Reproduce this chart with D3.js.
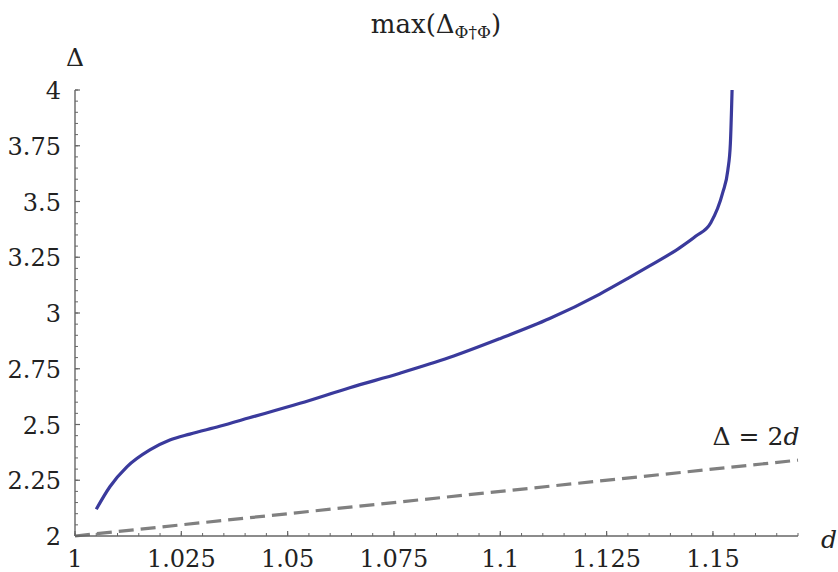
<!DOCTYPE html>
<html>
<head>
<meta charset="utf-8">
<script src="https://cdn.jsdelivr.net/npm/d3@7"></script>
<style>
  body { margin: 0; background: #fff; }
  svg text { font-family: "DejaVu Serif", "Liberation Serif", serif; }
</style>
</head>
<body>
<div id="chart"></div>
<script>
// curve values
var dValues =     [1.005, 1.0082, 1.0122, 1.0176, 1.0223, 1.027, 1.034, 1.041, 1.0529, 1.0646, 1.0764, 1.088, 1.0999, 1.1116, 1.1234, 1.13,  1.135, 1.142, 1.146, 1.1495, 1.1523, 1.1535, 1.1541, 1.1545];
var deltaValues = [2.12,  2.221,  2.31,   2.386,  2.43,   2.457, 2.492, 2.53,  2.595,  2.665,  2.73,   2.80,  2.885,  2.975,  3.085,  3.155, 3.21,  3.29,  3.345, 3.405,  3.54,   3.64,   3.76,   4.0];

var xTicks = [1, 1.025, 1.05, 1.075, 1.1, 1.125, 1.15];
var xTickLabels = ["1", "1.025", "1.05", "1.075", "1.1", "1.125", "1.15"];
var yTicks = [2, 2.25, 2.5, 2.75, 3, 3.25, 3.5, 3.75, 4];
var yTickLabels = ["2", "2.25", "2.5", "2.75", "3", "3.25", "3.5", "3.75", "4"];

var width = 838, height = 572;

var svg = d3.select("#chart").append("svg")
    .attr("width", width)
    .attr("height", height);

var x = d3.scaleLinear().domain([1, 1.17]).range([75, 798]);
var y = d3.scaleLinear().domain([2, 4]).range([536, 90]);

var axisColor = "#666";
var textColor = "#222";

// dashed line Delta = 2d
svg.append("line")
    .attr("x1", x(1)).attr("y1", y(2))
    .attr("x2", x(1.17)).attr("y2", y(2 * 1.17))
    .attr("stroke", "#808080")
    .attr("stroke-width", 3.2)
    .attr("stroke-dasharray", "15,7");

// x axis
var xMinor = d3.range(0, 35).map(function (i) { return 1 + i * 0.005; });
var gx = svg.append("g");
gx.append("line")
    .attr("x1", x(1)).attr("x2", x(1.17))
    .attr("y1", y(2)).attr("y2", y(2))
    .attr("stroke", axisColor).attr("stroke-width", 1.4);
gx.selectAll(".minor").data(xMinor).enter().append("line")
    .attr("x1", function (d) { return x(d); })
    .attr("x2", function (d) { return x(d); })
    .attr("y1", y(2)).attr("y2", y(2) - 3)
    .attr("stroke", axisColor).attr("stroke-width", 1);
gx.selectAll(".major").data(xTicks).enter().append("line")
    .attr("x1", function (d) { return x(d); })
    .attr("x2", function (d) { return x(d); })
    .attr("y1", y(2)).attr("y2", y(2) - 5)
    .attr("stroke", axisColor).attr("stroke-width", 1.2);
gx.selectAll(".lbl").data(xTicks).enter().append("text")
    .attr("x", function (d) { return x(d); })
    .attr("y", 567)
    .attr("text-anchor", "middle")
    .attr("font-size", 24)
    .attr("fill", textColor)
    .text(function (d, i) { return xTickLabels[i]; });

// y axis
var yMinor = d3.range(0, 41).map(function (i) { return 2 + i * 0.05; });
var gy = svg.append("g");
gy.append("line")
    .attr("x1", x(1)).attr("x2", x(1))
    .attr("y1", y(2)).attr("y2", y(4))
    .attr("stroke", axisColor).attr("stroke-width", 1.4);
gy.selectAll(".minor").data(yMinor).enter().append("line")
    .attr("x1", x(1)).attr("x2", x(1) + 3)
    .attr("y1", function (d) { return y(d); })
    .attr("y2", function (d) { return y(d); })
    .attr("stroke", axisColor).attr("stroke-width", 1);
gy.selectAll(".major").data(yTicks).enter().append("line")
    .attr("x1", x(1)).attr("x2", x(1) + 5)
    .attr("y1", function (d) { return y(d); })
    .attr("y2", function (d) { return y(d); })
    .attr("stroke", axisColor).attr("stroke-width", 1.2);
gy.selectAll(".lbl").data(yTicks).enter().append("text")
    .attr("x", 61)
    .attr("y", function (d) { return y(d) + 9; })
    .attr("text-anchor", "end")
    .attr("font-size", 24)
    .attr("fill", textColor)
    .text(function (d, i) { return yTickLabels[i]; });

// the curve
var pts = dValues.map(function (d, i) { return [d, deltaValues[i]]; });
var line = d3.line()
    .x(function (p) { return x(p[0]); })
    .y(function (p) { return y(p[1]); })
    .curve(d3.curveMonotoneX);
svg.append("path")
    .datum(pts)
    .attr("d", line)
    .attr("fill", "none")
    .attr("stroke", "#3a3a9c")
    .attr("stroke-width", 3.2)
    .attr("stroke-linejoin", "round");

// axis labels
svg.append("text")
    .attr("x", 75).attr("y", 66)
    .attr("text-anchor", "middle")
    .attr("font-size", 25)
    .attr("fill", textColor)
    .text("\u0394");
svg.append("text")
    .attr("x", 829).attr("y", 548)
    .attr("text-anchor", "middle")
    .attr("font-size", 25)
    .attr("font-style", "italic")
    .attr("fill", textColor)
    .text("d");

// line label
var lab = svg.append("text")
    .attr("x", 756).attr("y", 445)
    .attr("text-anchor", "middle")
    .attr("font-size", 25)
    .attr("fill", textColor);
lab.append("tspan").text("\u0394 = 2");
lab.append("tspan").attr("font-style", "italic").text("d");

// title
var title = svg.append("text")
    .attr("x", 436).attr("y", 33)
    .attr("text-anchor", "middle")
    .attr("font-size", 26)
    .attr("fill", textColor);
title.append("tspan").text("max(\u0394");
title.append("tspan").attr("font-size", 17).attr("dy", 5).text("\u03A6\u2020\u03A6");
title.append("tspan").attr("dy", -5).text(")");
</script>
</body>
</html>
